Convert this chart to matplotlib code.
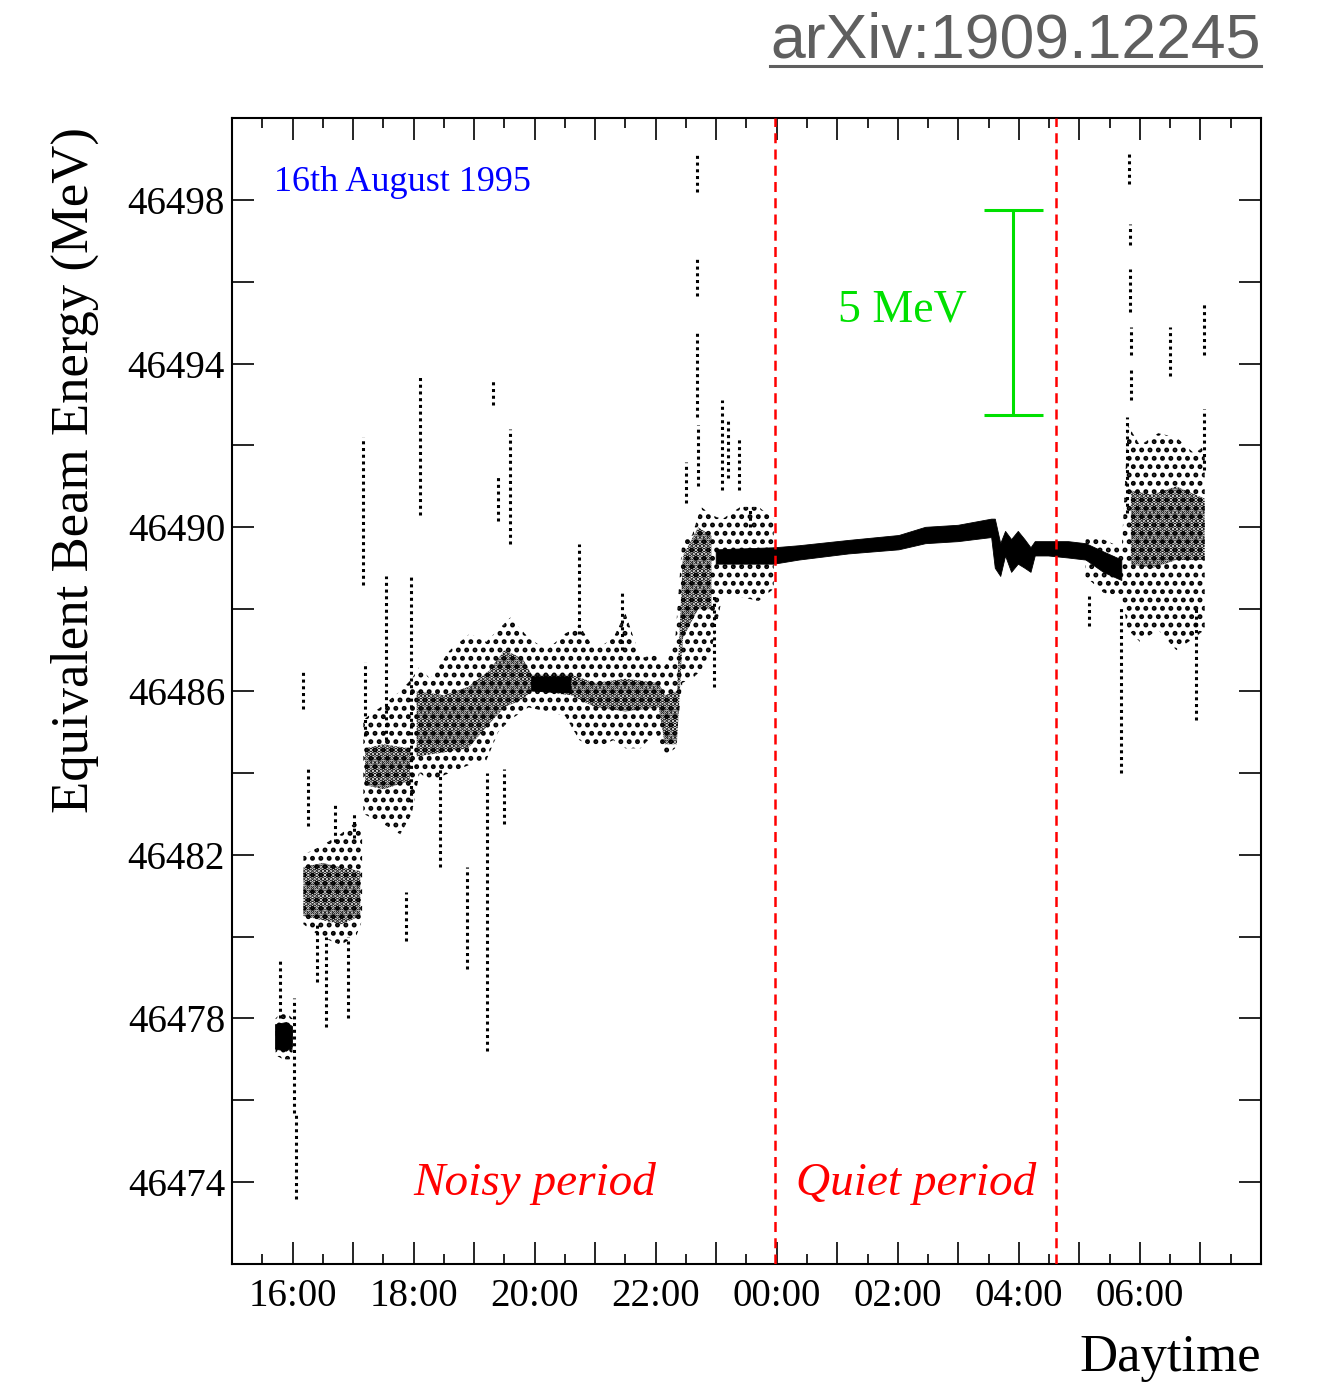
import numpy as np
import matplotlib
matplotlib.use("Agg")
import matplotlib.pyplot as plt
from matplotlib.ticker import FixedLocator, FuncFormatter, MultipleLocator
from matplotlib.lines import Line2D

nan = np.nan
# ---- data (time in hours since 00:00 of 16 Aug; >24 = 17 Aug) ----
# sparse envelope of the scattered measurements
noise_t  = [15.72, 15.85, 16.00, nan,
            16.18, 16.46, 16.79, 17.05, 17.15, nan,
            17.17, 17.45, 17.78, 17.97, 18.10, 18.27, 18.60, 18.93, 19.20,
            19.40, 19.60, 19.90, 20.20, 20.50, 20.74, 21.00, 21.30, 21.50,
            21.75, 22.00, 22.15, 22.32, 22.44, 22.60, 22.75, 22.92,
            23.10, 23.40, 23.70, 23.95, nan,
            29.10, 29.40, 29.70, 29.80, 30.00, 30.30, 30.60, 30.90, 31.07]
noise_lo = [46477.1, 46477.0, 46477.0, nan,
            46480.3, 46480.0, 46479.8, 46480.0, 46480.4, nan,
            46483.0, 46482.8, 46482.5, 46483.0, 46484.0, 46483.8, 46484.0, 46484.2, 46484.3,
            46485.0, 46485.3, 46485.6, 46485.5, 46485.4, 46484.8, 46484.6, 46484.8, 46484.6,
            46484.6, 46485.0, 46484.4, 46484.6, 46486.2, 46486.3, 46486.5, 46487.0,
            46488.3, 46488.3, 46488.2, 46488.5, nan,
            46488.8, 46488.4, 46488.3, 46487.5, 46487.2, 46487.5, 46487.0, 46487.3, 46487.5]
noise_hi = [46478.0, 46478.2, 46478.0, nan,
            46482.0, 46482.2, 46482.5, 46482.8, 46482.5, nan,
            46485.3, 46485.6, 46486.0, 46486.3, 46486.6, 46486.3, 46487.0, 46487.4, 46487.2,
            46487.5, 46487.8, 46487.3, 46487.0, 46487.4, 46487.6, 46487.0, 46487.3, 46487.9,
            46486.8, 46486.9, 46486.6, 46487.2, 46489.7, 46489.8, 46490.5, 46490.3,
            46490.2, 46490.5, 46490.5, 46490.2, nan,
            46489.8, 46489.7, 46489.5, 46492.5, 46492.0, 46492.3, 46492.2, 46491.8, 46492.0]

# dense core of the scattered measurements
core_t  = [16.18, 16.50, 16.80, 17.12, nan,
           17.20, 17.50, 17.94, nan,
           18.05, 18.50, 18.90, 19.25, 19.50, 19.80, 19.95, 20.60, 21.00, 21.50,
           22.05, 22.15, 22.35, 22.45, 22.70, 22.92, nan,
           29.85, 30.20, 30.60, 31.07]
core_lo = [46480.5, 46480.4, 46480.3, 46480.5, nan,
           46483.7, 46483.6, 46483.8, nan,
           46484.4, 46484.5, 46484.6, 46485.2, 46485.6, 46485.8, 46486.0, 46485.9, 46485.6, 46485.5,
           46485.6, 46484.7, 46484.7, 46487.3, 46488.0, 46488.0, nan,
           46489.1, 46489.0, 46489.2, 46489.2]
core_hi = [46481.7, 46481.8, 46481.7, 46481.6, nan,
           46484.6, 46484.7, 46484.6, nan,
           46486.0, 46485.9, 46486.1, 46486.5, 46487.0, 46486.8, 46486.4, 46486.4, 46486.2, 46486.3,
           46486.2, 46485.9, 46486.0, 46489.3, 46490.0, 46489.8, nan,
           46490.9, 46490.8, 46491.0, 46490.7]

# very dense (quasi-solid) bands
band_t  = [15.72, 15.90, 16.00, nan,
           19.95, 20.60, nan,
           23.00, 23.96, 24.37, 25.19, 26.02, 26.46, 27.00, 27.55, 27.61, 27.70,
           27.78, 27.88, 27.99, 28.10, 28.20, 28.27, 28.49, 28.82, 29.11, 29.40, 29.70]
band_lo = [46477.25, 46477.2, 46477.3, nan,
           46486.0, 46485.95, nan,
           46489.1, 46489.1, 46489.2, 46489.35, 46489.45, 46489.6, 46489.65, 46489.75, 46489.0, 46488.8,
           46489.3, 46488.9, 46489.1, 46489.0, 46488.9, 46489.3, 46489.3, 46489.25, 46489.2, 46488.9, 46488.7]
band_hi = [46477.85, 46477.9, 46477.8, nan,
           46486.35, 46486.35, nan,
           46489.45, 46489.5, 46489.55, 46489.68, 46489.8, 46490.0, 46490.05, 46490.2, 46490.2, 46489.6,
           46489.9, 46489.7, 46489.9, 46489.7, 46489.5, 46489.65, 46489.65, 46489.65, 46489.6, 46489.4, 46489.2]

# isolated vertical strings of points (spikes / outliers)
spike_t  = [15.80, 16.03, 16.05, 16.18, 16.25, 16.40, 16.55, 16.48, 16.92,
            17.17, 17.20, 17.55, 17.42, 17.38, 17.87, 18.10, 17.96, 18.43,
            18.88, 19.22, 19.32, 19.39, 19.50, 19.60, 20.74, 22.10, 22.50,
            22.68, 22.68, 22.68, 22.70, 22.97, 23.10, 23.20, 23.38,
            29.15, 29.69, 29.82, 29.83, 29.84, 29.85, 29.86, 29.78,
            30.50, 30.93, 31.05, 31.05,
            21.45, 16.70, 17.02, 23.55]
spike_lo = [46478.0, 46475.7, 46473.6, 46485.55, 46482.7, 46478.9, 46477.8, 46477.05, 46478.0,
            46488.6, 46484.9, 46484.8, 46481.5, 46480.25, 46479.9, 46490.3, 46483.3, 46481.7,
            46479.2, 46477.2, 46493.0, 46490.15, 46482.75, 46489.6, 46487.4, 46487.9, 46490.6,
            46498.2, 46495.65, 46492.7, 46491.0, 46486.1, 46490.9, 46491.2, 46490.9,
            46487.6, 46484.0, 46498.4, 46496.9, 46495.25, 46494.2, 46493.1, 46490.35,
            46493.7, 46485.3, 46494.2, 46491.4,
            46487.0, 46482.3, 46482.4, 46490.0]
spike_hi = [46479.4, 46478.5, 46475.7, 46486.5, 46484.1, 46480.3, 46480.0, 46477.05, 46480.0,
            46492.2, 46486.7, 46488.8, 46481.5, 46480.25, 46481.1, 46493.7, 46488.8, 46484.2,
            46481.7, 46484.0, 46493.6, 46491.25, 46484.1, 46492.4, 46489.6, 46487.9, 46491.6,
            46499.15, 46496.6, 46494.8, 46492.5, 46488.4, 46493.1, 46492.6, 46492.2,
            46488.4, 46488.1, 46499.15, 46497.4, 46496.3, 46494.9, 46493.9, 46492.7,
            46494.9, 46488.0, 46495.45, 46492.9,
            46488.4, 46483.3, 46483.0, 46490.5]

period_bounds = [23.97, 28.62]
scale_bar_t = 27.91
scale_bar = [46492.75, 46497.75]

xtick_pos = [16, 18, 20, 22, 24, 26, 28, 30]
xtick_lab = ["16:00", "18:00", "20:00", "22:00", "00:00", "02:00", "04:00", "06:00"]

# ---- figure ----
plt.rcParams['hatch.linewidth'] = 2.3
serif = ['Liberation Serif', 'DejaVu Serif']
fig = plt.figure(figsize=(13.21, 13.84), dpi=100)
ax = fig.add_axes([0.1756, 0.0867, 0.779, 0.828])
ax.set_xlim(15, 32)
ax.set_ylim(46472, 46500)

ax.fill_between(noise_t, noise_lo, noise_hi, facecolor='none', edgecolor='k',
                hatch='..', linewidth=0, zorder=2)
ax.fill_between(core_t, core_lo, core_hi, facecolor='none', edgecolor='k',
                hatch='....', linewidth=0, zorder=3)
ax.fill_between(band_t, band_lo, band_hi, facecolor='k', edgecolor='k',
                linewidth=0.6, zorder=4)
ax.vlines(spike_t, spike_lo, spike_hi, colors='k', linewidth=2.2,
          linestyles=(0, (1, 1.2)), zorder=4)

for b in period_bounds:
    ax.axvline(b, color='#ff0000', lw=1.8, ls=(0, (4, 2.5)), zorder=5)

ax.vlines([scale_bar_t], scale_bar[0], scale_bar[1], colors='#00e000', lw=2.2, zorder=5)
ax.hlines(scale_bar, scale_bar_t - 0.49, scale_bar_t + 0.49, colors='#00e000', lw=2.2, zorder=5)

ax.text(26.07, 46495.3, "5 MeV", color='#00e000', fontsize=33, family=serif,
        ha='center', va='center')
ax.text(15.69, 46498.42, "16th August 1995", color='#0000ff', fontsize=26,
        family=serif, ha='left', va='center')
ax.text(20.0, 46473.97, "Noisy period", color='#ff0000', fontsize=34,
        family=serif, style='italic', ha='center', va='center')
ax.text(26.3, 46473.97, "Quiet period", color='#ff0000', fontsize=34,
        family=serif, style='italic', ha='center', va='center')

# axes styling
for s in ax.spines.values():
    s.set_linewidth(1.5)
ax.xaxis.set_major_locator(MultipleLocator(1))
ax.xaxis.set_minor_locator(MultipleLocator(0.5))
lab_map = dict(zip(xtick_pos, xtick_lab))
ax.xaxis.set_major_formatter(FuncFormatter(lambda v, p: lab_map.get(int(round(v)), "")
                                           if abs(v - round(v)) < 1e-6 else ""))
ax.yaxis.set_major_locator(FixedLocator(np.arange(46472, 46501, 2)))
ax.yaxis.set_major_formatter(FuncFormatter(lambda v, p: "%d" % round(v)
                                           if int(round(v) - 46474) % 4 == 0 else ""))
ax.tick_params(which='both', direction='in', top=True, right=True, width=1.2, colors='k')
ax.tick_params(which='major', length=16)
ax.tick_params(which='minor', length=7)
ax.tick_params(axis='x', which='major', pad=10, labelsize=28)
ax.tick_params(axis='y', which='major', pad=5, labelsize=28)
for lab in ax.get_xticklabels() + ax.get_yticklabels():
    lab.set_family(serif)

ax.text(-0.1526, 0.693, "Equivalent Beam Energy (MeV)", transform=ax.transAxes,
        rotation=90, ha='center', va='center', fontsize=38, family=serif)
ax.text(1.0, -0.082, "Daytime", transform=ax.transAxes, ha='right', va='center',
        fontsize=38, family=serif)

# arXiv tag (underlined)
t = fig.text(770 / 1321, 1 - 58 / 1384, "arXiv:1909.12245", fontsize=45,
             family=['Liberation Sans', 'DejaVu Sans'], color='#5f5f5f',
             ha='left', va='baseline')
fig.canvas.draw()
bb = t.get_window_extent()
W, H = fig.bbox.width, fig.bbox.height
fig.add_artist(Line2D([bb.x0 / W, bb.x1 / W], [1 - 66 / 1384, 1 - 66 / 1384],
                      transform=fig.transFigure, color='#5f5f5f', lw=2.2))

fig.savefig("out.png", dpi=100)
